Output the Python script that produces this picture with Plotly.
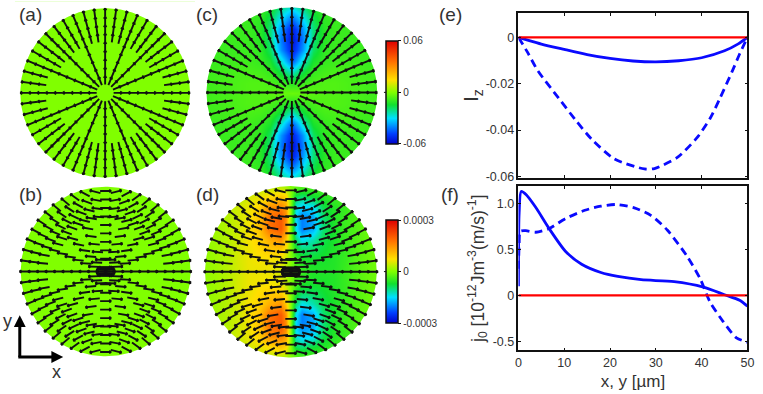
import math
import numpy as np
import plotly.graph_objects as go

W, H = 763, 394

# ---- line panels -------------------------------------------------------
e_solid_x = [0, 2, 5, 10, 15, 20, 25, 30, 35, 40, 45, 48, 50]
e_solid_y = [0, -.0012, -.0029, -.0052, -.0074, -.0091, -.0102, -.0106, -.0101, -.0088, -.0058, -.0028, 0]
e_dash_x = [0, 2, 4.2, 8.8, 12.4, 16, 21, 27.5, 29.7, 34.7, 39, 41.9, 44, 46.6, 48.3, 50]
e_dash_y = [0, -.0065, -.0143, -.0263, -.0355, -.044, -.0525, -.0568, -.0566, -.0518, -.0433, -.0348, -.0263, -.015, -.0072, 0]
f_solid_x = [0, .15, .6, 1.7, 3.8, 6.7, 10.3, 13.8, 18, 21.7, 26.8, 34, 40.4, 45, 48.3, 50]
f_solid_y = [.1, .9, 1.136, 1.1, .96, .73, .48, .34, .25, .207, .171, .15, .09, .007, -.054, -.118]
f_dash_x = [0, .15, .4, 1.6, 3.8, 6.7, 10.3, 14.5, 18, 21.4, 25.3, 28.9, 32.5, 36.8, 39.7, 41.8, 44.7, 47.6, 50]
f_dash_y = [.29, .55, .70, .707, .69, .73, .84, .93, .975, .993, .957, .875, .714, .429, .18, -.07, -.286, -.464, -.51]
zero_x = [0, 50]
zero_y = [0, 0]
e_ticks = [-.06, -.04, -.02, 0]
e_labels = ["-0.06", "-0.04", "-0.02", "0"]
f_ticks = [-.5, 0, .5, 1]
f_labels = ["-0.5", "0", "0.5", "1.0"]
x_ticks = [0, 10, 20, 30, 40, 50]

# ---- colour maps (normalised to the colour bar limits) -----------------
c_limit = 0.06
d_limit = 0.0003
c_cols = [0, .125, .25, .375, .5, .625, .75, .875, 1]
c_rows = [0, .125, .25, .375, .5, .625, .75, .875, 1]
c_table = [
    [-.05, -.06, -.08, -.10, -.10, -.11, -.12, -.13, -.14],
    [-.20, -.15, -.12, -.10, -.10, -.11, -.12, -.13, -.14],
    [-.45, -.28, -.16, -.13, -.12, -.12, -.13, -.14, -.14],
    [-.75, -.45, -.22, -.16, -.14, -.14, -.14, -.15, -.15],
    [-.90, -.65, -.30, -.17, -.15, -.15, -.15, -.15, -.15],
    [-.95, -.70, -.33, -.19, -.15, -.15, -.15, -.15, -.15],
    [-.90, -.65, -.33, -.19, -.15, -.15, -.15, -.15, -.15],
    [-.70, -.50, -.28, -.17, -.15, -.15, -.15, -.15, -.15],
    [-.45, -.35, -.20, -.15, -.15, -.15, -.15, -.15, -.15],
]
d_cols = [0, .06, .125, .25, .375, .5, .625, .75, .875, 1]
d_rows = [0, .125, .25, .375, .5, .625, .75, .875, 1]
d_table = [
    [0, -.10, -.15, -.20, -.20, -.20, -.15, -.10, -.06, -.03],
    [0, -.12, -.20, -.22, -.22, -.20, -.16, -.10, -.06, -.03],
    [0, -.20, -.30, -.30, -.25, -.20, -.16, -.10, -.06, -.03],
    [0, -.32, -.48, -.40, -.28, -.22, -.15, -.10, -.06, -.03],
    [0, -.48, -.68, -.60, -.33, -.22, -.15, -.10, -.06, -.03],
    [0, -.52, -.68, -.60, -.33, -.20, -.15, -.10, -.05, -.03],
    [0, -.45, -.55, -.52, -.28, -.20, -.15, -.10, -.05, -.03],
    [0, -.28, -.33, -.25, -.20, -.15, -.10, -.08, -.05, -.03],
    [0, -.05, -.08, -.10, -.10, -.08, -.06, -.05, -.04, -.03],
]
flat_cols = [0, .125, .25, .375, .5, .625, .75, .875, 1]
flat_rows = [0, .5, 1]
flat_table = [[0] * 9, [0] * 9, [0] * 9]

colorscale = [
    [0.00, "#0000c8"], [0.10, "#0040ff"], [0.25, "#00e0ff"], [0.38, "#10e030"],
    [0.50, "#80ff00"], [0.62, "#ffe000"], [0.80, "#ff7000"], [1.00, "#e00000"],
]

# ---- arrow grid --------------------------------------------------------
ray_angles = [0, 7.5, 15, 22.5, 30, 37.5, 45, 52.5, 60, 67.5, 75, 82.5, 90]
ray_radii = [.05, .15, .25, .35, .45, .55, .65, .75, .85, .95]
# direction of the arrows in (b) and (d), degrees, one row per radius
tilt_table = [
    [0, 0, 1, 1, 1, 1, 1, 1, 1, 1, 1, 0, 0],
    [0, 1, 2, 2, 3, 3, 3, 3, 3, 2, 2, 1, 0],
    [0, 1, 2, 3, 4, 5, 5, 4, 4, 3, 2, 1, 0],
    [0, 2, 4, 5, 6, 7, 8, 7, 6, 5, 3, 2, 0],
    [0, 3, 5, 7, 9, 10, 11, 11, 9, 7, 5, 2, 0],
    [0, 3, 6, 9, 12, 14, 15, 15, 13, 10, 7, 3, 0],
    [0, 4, 8, 12, 15, 18, 20, 20, 18, 14, 10, 5, 0],
    [0, 5, 10, 15, 20, 23, 26, 27, 25, 20, 14, 7, 0],
    [0, 6, 12, 18, 24, 28, 32, 34, 33, 28, 20, 10, 0],
    [0, 8, 15, 22, 28, 33, 37, 40, 40, 36, 28, 14, 0],
]


def arrows(table, length):
    xs, ys = [], []
    for sx, sy in ((1, 1), (-1, 1), (1, -1), (-1, -1)):
        for j, a in enumerate(ray_angles):
            if sx < 0 and a == 90:
                continue
            if sy < 0 and a == 0:
                continue
            inner = .05 if table else .15
            start = inner if a % 22.5 == 0 else (.75 if a < 22.5 else .65)
            for i, r in enumerate(ray_radii):
                if r < start:
                    continue
                t, p = math.radians(a), math.radians(table[i][j] if table else a)
                cx, cy = sx * r * math.cos(t), sy * r * math.sin(t)
                ux, uy = sx * math.cos(p), sy * math.sin(p)
                hx, hy = cx + ux * length / 2, cy + uy * length / 2
                xs += [cx - ux * length / 2, hx, None]
                ys += [cy - uy * length / 2, hy, None]
                b = .028
                for s in (1, -1):
                    q = math.atan2(uy, ux) + math.pi + s * .55
                    xs += [hx, hx + b * math.cos(q), None]
                    ys += [hy, hy + b * math.sin(q), None]
    return xs, ys


SPAN = 1.08


def mask_path(L=SPAN + .02):
    th = np.linspace(0, 2 * math.pi, 241)
    xs = list(np.cos(th)) + [L, L, -L, -L, L, L, 1]
    ys = list(np.sin(th)) + [0, -L, -L, L, L, 0, 0]
    return xs, ys


fig = go.Figure()
panels = [
    ("a", 103.5, 94.3, 86, flat_cols, flat_rows, flat_table, None, .1),
    ("b", 104.0, 275.7, 86, flat_cols, flat_rows, flat_table, tilt_table, .13),
    ("c", 292.7, 94.0, 86.5, c_cols, c_rows, c_table, None, .1),
    ("d", 291.7, 276.0, 87, d_cols, d_rows, d_table, tilt_table, .13),
]
layout_axes = {}
for k, (name, cx, cy, R, cols, rows, table, tilt, alen) in enumerate(panels):
    n = k + 1
    xa, ya = f"x{n}", f"y{n}"
    T = np.array(table, dtype=float)
    px = SPAN * R
    layout_axes[f"xaxis{n}"] = dict(domain=[(cx - px) / W, (cx + px) / W], range=[-SPAN, SPAN],
                                    visible=False, anchor=ya)
    layout_axes[f"yaxis{n}"] = dict(domain=[1 - (cy + px) / H, 1 - (cy - px) / H], range=[-SPAN, SPAN],
                                    visible=False, anchor=xa)
    # mirror the quadrant table
    cols = np.array(cols, dtype=float)
    rows = np.array(rows, dtype=float)
    limit = {"c": c_limit, "d": d_limit}.get(name, 1)
    left = -T[:, :0:-1] if name == "d" else T[:, :0:-1]
    zq = np.hstack([left, T])
    X = np.concatenate([-cols[:0:-1], cols])
    Y = np.concatenate([-rows[:0:-1], rows])
    Z = np.vstack([zq[:0:-1], zq]) * limit
    hm = dict(x=X, y=Y, z=Z, xaxis=xa, yaxis=ya, zsmooth="best", colorscale=colorscale,
              zmin=-limit, zmax=limit, showscale=False, hoverinfo="skip")
    if name in "cd":
        tv = [-limit, 0, limit]
        tt = ["-0.06", "0", "0.06"] if name == "c" else ["-0.0003", "0", "0.0003"]
        hm.update(showscale=True, colorbar=dict(
            x=388 / W, xanchor="left", y=1 - (93.8 if name == "c" else 275.8) / H, yanchor="middle",
            len=102.5, lenmode="pixels", thickness=12, thicknessmode="pixels", xpad=0, ypad=0,
            tickvals=tv, ticktext=tt, ticks="outside", ticklen=3, tickcolor="#111", tickwidth=1,
            tickfont=dict(family="Liberation Sans", size=10, color="#333"),
            outlinecolor="#111", outlinewidth=1.5, borderwidth=0))
    fig.add_trace(go.Heatmap(**hm))
    mx, my = mask_path()
    fig.add_trace(go.Scatter(x=mx, y=my, xaxis=xa, yaxis=ya, mode="lines", fill="toself",
                             fillcolor="white", line=dict(width=0, color="white"),
                             showlegend=False, hoverinfo="skip"))
    ax, ay = arrows(tilt, alen)
    fig.add_trace(go.Scatter(x=ax, y=ay, xaxis=xa, yaxis=ya, mode="lines",
                             line=dict(color="#111", width=1.9), showlegend=False, hoverinfo="skip"))

# ---- line plots --------------------------------------------------------
BLUE, RED = "#0a0aff", "#ff0000"
axis_style = dict(showline=True, linecolor="#111", linewidth=1.5, mirror="allticks", ticks="inside",
                  ticklen=3, tickcolor="#111", showgrid=False, zeroline=False,
                  tickfont=dict(family="Liberation Sans", size=12.5, color="#333"))
layout_axes["xaxis5"] = dict(domain=[522.3 / W, 754.3 / W], range=[0, 50], tickvals=x_ticks,
                             showticklabels=False, anchor="y5", **axis_style)
layout_axes["yaxis5"] = dict(domain=[1 - 180.3 / H, 1 - 13.7 / H], range=[-.0605, .0103], tickvals=e_ticks,
                             ticktext=e_labels, anchor="x5",
                             title=dict(text="I<sub>z</sub>", standoff=0,
                                        font=dict(family="Liberation Sans", size=20, color="#333")),
                             **axis_style)
layout_axes["xaxis6"] = dict(domain=[522.3 / W, 754.3 / W], range=[0, 50], tickvals=x_ticks, anchor="y6",
                             title=dict(text="x, y [µm]", standoff=6,
                                        font=dict(family="Liberation Sans", size=17, color="#333")),
                             **axis_style)
layout_axes["yaxis6"] = dict(domain=[1 - 355.7 / H, 1 - 189 / H], range=[-.6, 1.194], tickvals=f_ticks,
                             ticktext=f_labels, anchor="x6",
                             title=dict(text="j<sub>0</sub> [10<sup>-12</sup>Jm<sup>-3</sup>(m/s)<sup>-1</sup>]",
                                        standoff=4,
                                        font=dict(family="Liberation Sans", size=17.5, color="#333")),
                             **axis_style)

for xa, ya, sx, sy, dx, dy in (("x5", "y5", e_solid_x, e_solid_y, e_dash_x, e_dash_y),
                               ("x6", "y6", f_solid_x, f_solid_y, f_dash_x, f_dash_y)):
    fig.add_trace(go.Scatter(x=sx, y=sy, xaxis=xa, yaxis=ya, mode="lines",
                             line=dict(color=BLUE, width=2.8, shape="spline", smoothing=.7), showlegend=False))
    fig.add_trace(go.Scatter(x=dx, y=dy, xaxis=xa, yaxis=ya, mode="lines",
                             line=dict(color=BLUE, width=2.8, dash="8px,5px", shape="spline", smoothing=.7),
                             showlegend=False))
    fig.add_trace(go.Scatter(x=zero_x, y=zero_y, xaxis=xa, yaxis=ya, mode="lines",
                             line=dict(color=RED, width=2.4), showlegend=False))

# ---- annotations and decoration ----------------------------------------
def note(text, px, py, size=19):
    return dict(text=text, x=px / W, y=1 - py / H, xref="paper", yref="paper", showarrow=False,
                xanchor="center", yanchor="middle",
                font=dict(family="Liberation Sans", size=size, color="#333"))


annotations = [note(f"({c})", x, y) for c, x, y in
               (("a", 28, 15), ("b", 28, 197), ("c", 207, 15), ("d", 207, 197), ("e", 453, 15), ("f", 453, 198))]
annotations += [note("y", 5, 326, 18), note("x", 54, 378, 18)]


def px_line(x0, y0, x1, y1, width, color="#000"):
    return dict(type="line", xref="paper", yref="paper", x0=x0 / W, y0=1 - y0 / H, x1=x1 / W, y1=1 - y1 / H,
                line=dict(color=color, width=width))


def px_triangle(points):
    p = "M" + " L".join(f"{x / W:.5f},{1 - y / H:.5f}" for x, y in points) + " Z"
    return dict(type="path", path=p, xref="paper", yref="paper", fillcolor="#000", line=dict(width=0))


shapes = [
    px_line(17, 362.5, 17, 330, 3), px_line(15.5, 362.5, 50, 362.5, 3),
    px_triangle([(17, 320), (11, 332), (23, 332)]),
    px_triangle([(61, 362.5), (49, 356.5), (49, 368.5)]),
    px_line(386, 93.8, 388, 93.8, 1, "#111"),
    px_line(386, 275.8, 388, 275.8, 1, "#111"),
]

fig.update_layout(width=W, height=H, margin=dict(l=0, r=0, t=0, b=0), paper_bgcolor="white",
                  plot_bgcolor="white", showlegend=False, annotations=annotations, shapes=shapes,
                  **layout_axes)
fig.write_html("out.html", config={"displayModeBar": False}, post_script="document.body.style.margin='0';")
